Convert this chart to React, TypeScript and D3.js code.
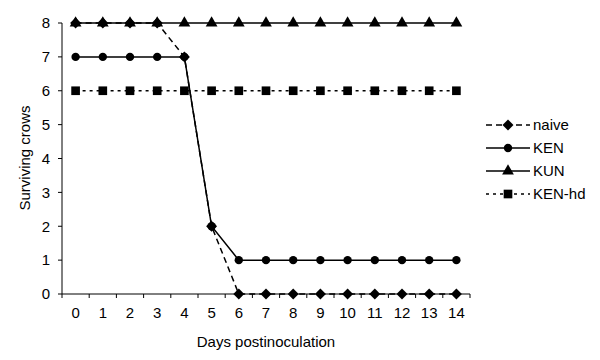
import React from "react";
import * as d3 from "d3";

const days = [0, 1, 2, 3, 4, 5, 6, 7, 8, 9, 10, 11, 12, 13, 14];
const naive = [8, 8, 8, 8, 7, 2, 0, 0, 0, 0, 0, 0, 0, 0, 0];
const ken = [7, 7, 7, 7, 7, 2, 1, 1, 1, 1, 1, 1, 1, 1, 1];
const kun = [8, 8, 8, 8, 8, 8, 8, 8, 8, 8, 8, 8, 8, 8, 8];
const kenHd = [6, 6, 6, 6, 6, 6, 6, 6, 6, 6, 6, 6, 6, 6, 6];
const yTicks = [0, 1, 2, 3, 4, 5, 6, 7, 8];

const seriesNames = ["naive", "KEN", "KUN", "KEN-hd"];

const FONT = "'Liberation Sans', Arial, sans-serif";

const diamondType: d3.SymbolType = {
  draw(ctx: any, size: number) {
    const r = Math.sqrt(size / 2);
    ctx.moveTo(0, -r);
    ctx.lineTo(r, 0);
    ctx.lineTo(0, r);
    ctx.lineTo(-r, 0);
    ctx.closePath();
  },
};

export default function App() {
  const left = 62, right = 470, top = 23, bottom = 294;
  const x = d3.scaleBand<number>().domain(days).range([left, right]);
  const y = d3.scaleLinear().domain([0, 8]).range([bottom, top]);
  const cx = (d: number) => (x(d) as number) + x.bandwidth() / 2;

  const series = [
    { name: seriesNames[0], values: naive, dash: "6,4", shape: "diamond" },
    { name: seriesNames[1], values: ken, dash: "", shape: "circle" },
    { name: seriesNames[2], values: kun, dash: "", shape: "triangle" },
    { name: seriesNames[3], values: kenHd, dash: "3,4", shape: "square" },
  ];

  const symType: Record<string, d3.SymbolType> = {
    diamond: diamondType,
    circle: d3.symbolCircle,
    triangle: d3.symbolTriangle,
    square: d3.symbolSquare,
  };
  const symSize: Record<string, number> = {
    diamond: 60,
    circle: 55,
    triangle: 60,
    square: 75,
  };
  const sym = (s: string) => d3.symbol().type(symType[s]).size(symSize[s])() as string;

  const line = d3
    .line<number>()
    .x((_, i) => cx(days[i]))
    .y((v) => y(v));

  const drawOrder = [3, 1, 0, 2];

  const legendY = [125, 148, 171, 194];
  const FS = 15;

  return (
    <svg width={600} height={360} style={{ position: "absolute", left: 0, top: 0, background: "#fff" }}>
      <rect width={600} height={360} fill="#fff" />
      {/* axes */}
      <line x1={left} x2={left} y1={top} y2={bottom} stroke="#000" strokeWidth={1} />
      <line x1={left} x2={right} y1={bottom} y2={bottom} stroke="#000" strokeWidth={1} />
      {yTicks.map((t) => (
        <g key={"y" + t}>
          <line x1={left - 4} x2={left} y1={y(t)} y2={y(t)} stroke="#000" />
          <text x={left - 12} y={y(t)} dy="0.35em" textAnchor="end" fontFamily={FONT} fontSize={FS}>
            {t}
          </text>
        </g>
      ))}
      {days.map((d) => (
        <line key={"xt" + d} x1={x(d) as number} x2={x(d) as number} y1={bottom} y2={bottom + 4} stroke="#000" />
      ))}
      <line x1={right} x2={right} y1={bottom} y2={bottom + 4} stroke="#000" />
      {days.map((d) => (
        <text key={"xl" + d} x={cx(d)} y={313} dy="0.35em" textAnchor="middle" fontFamily={FONT} fontSize={FS}>
          {d}
        </text>
      ))}
      <text x={266} y={342} dy="0.35em" textAnchor="middle" fontFamily={FONT} fontSize={FS}>
        Days postinoculation
      </text>
      <text
        transform={`translate(25,158) rotate(-90)`}
        dy="0.35em"
        textAnchor="middle"
        fontFamily={FONT}
        fontSize={FS}
      >
        Surviving crows
      </text>
      {/* series */}
      {drawOrder.map((si) => {
        const s = series[si];
        return (
          <g key={s.name}>
            <path d={line(s.values) as string} fill="none" stroke="#000" strokeWidth={1.5} strokeDasharray={s.dash || undefined} />
            {s.values.map((v, i) => (
              <path key={i} d={sym(s.shape)} transform={`translate(${cx(days[i])},${y(v)})`} fill="#000" />
            ))}
          </g>
        );
      })}
      {/* legend */}
      {series.map((s, i) => (
        <g key={"lg" + s.name} transform={`translate(0,${legendY[i]})`}>
          <line x1={486} x2={530} y1={0} y2={0} stroke="#000" strokeWidth={1.5} strokeDasharray={s.dash || undefined} />
          <path d={sym(s.shape)} transform="translate(508,0)" fill="#000" />
          <text x={533} y={0} dy="0.35em" fontFamily={FONT} fontSize={FS}>
            {s.name}
          </text>
        </g>
      ))}
    </svg>
  );
}
